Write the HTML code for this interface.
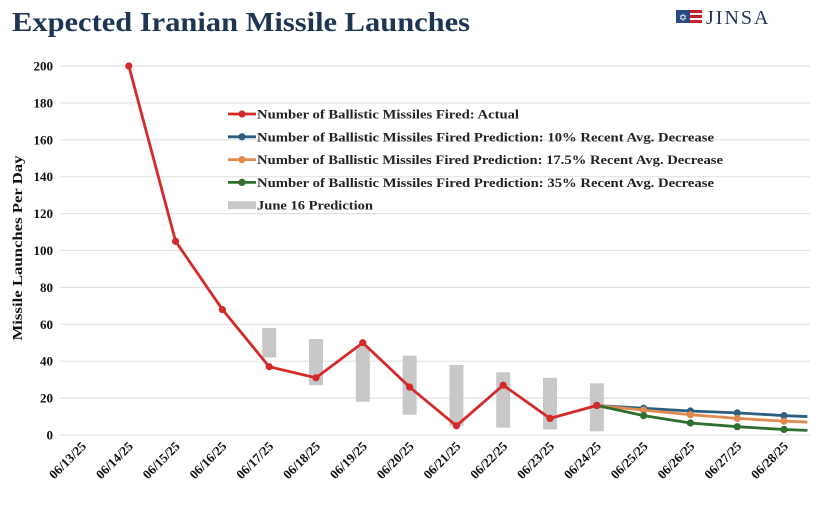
<!DOCTYPE html>
<html><head><meta charset="utf-8"><style>
body{margin:0;background:#fff;width:828px;height:509px;overflow:hidden}
svg{display:block}
</style></head><body>
<svg id="chart" width="828" height="509" xmlns="http://www.w3.org/2000/svg">
<text x="12" y="31" font-family="Liberation Serif, serif" font-weight="bold" font-size="27" fill="#1f3554" textLength="458" lengthAdjust="spacingAndGlyphs">Expected Iranian Missile Launches</text>
<g>
<rect x="676" y="10" width="14" height="13" fill="#2a4a80"/>
<rect x="690" y="10" width="12" height="3" fill="#c8202a"/><rect x="690" y="15" width="12" height="3" fill="#c8202a"/><rect x="690" y="20" width="12" height="3" fill="#c8202a"/>
<text x="683" y="21" font-size="10" fill="#fff" text-anchor="middle">✡</text>
<text x="706" y="24" font-family="Liberation Serif, serif" font-size="20" fill="#1f3554" letter-spacing="2">JINSA</text>
</g>
<text transform="translate(22,248) rotate(-90)" text-anchor="middle" font-family="Liberation Serif, serif" font-weight="bold" font-size="13.5" fill="#111" textLength="185" lengthAdjust="spacingAndGlyphs">Missile Launches Per Day</text>
<g id="grid"></g><g id="bars"></g><g id="lines"></g><g id="xlabels"></g>
<g id="legend" font-family="Liberation Serif, serif" font-weight="bold" font-size="13" fill="#222"></g>
</svg>
<script>
const dates=["06/13/25","06/14/25","06/15/25","06/16/25","06/17/25","06/18/25","06/19/25","06/20/25","06/21/25","06/22/25","06/23/25","06/24/25","06/25/25","06/26/25","06/27/25","06/28/25"];
const yTicks=[0,20,40,60,80,100,120,140,160,180,200];
const actual=[null,200,105,68,37,31,50,26,5,27,9,16];
const barLow=[null,null,null,null,42,27,18,11,5,4,3,2];
const barHigh=[null,null,null,null,58,52,48,43,38,34,31,28];
const pred10=[16,14.5,13,12,10.5,10];
const pred175=[16,13.5,11,9,7.5,7];
const pred35=[16,10.5,6.5,4.5,3,2.5];
const predStart=11;
const legendLabels=["Number of Ballistic Missiles Fired: Actual","Number of Ballistic Missiles Fired Prediction: 10% Recent Avg. Decrease","Number of Ballistic Missiles Fired Prediction: 17.5% Recent Avg. Decrease","Number of Ballistic Missiles Fired Prediction: 35% Recent Avg. Decrease","June 16 Prediction"];
const legendWidths=[262,457,466,457,116];
const NS="http://www.w3.org/2000/svg";
const X=i=>82+i*46.8, Y=v=>435-v*1.845;
function mk(t,a,p){const e=document.createElementNS(NS,t);for(const k in a)e.setAttribute(k,a[k]);p.appendChild(e);return e;}
const g=document.getElementById('grid');
yTicks.forEach(v=>{
 const l=mk('line',{x1:60,x2:810,y1:Y(v),y2:Y(v),stroke:'#e2e2e2','stroke-width':1.2},g);
 
 
 const t=mk('text',{x:53,y:Y(v)+4.5,'text-anchor':'end','font-family':'Liberation Serif, serif','font-weight':'bold','font-size':13,fill:'#111'},g);
 t.textContent=v;
 
 
});
const xl=document.getElementById('xlabels');
dates.forEach((d,i)=>{
 const t=mk('text',{transform:`translate(${X(i)+5},447) rotate(-45)`,'text-anchor':'end','font-family':'Liberation Serif, serif','font-weight':'bold','font-size':13,fill:'#111'},xl);
 t.textContent=d;
 
 
});
const b=document.getElementById('bars');
barLow.forEach((lo,i)=>{if(lo==null)return;
 const r=mk('rect',{x:X(i)-7,y:Y(barHigh[i]),width:14,height:Y(lo)-Y(barHigh[i]),fill:'#c8c8c8'},b);
 
 
});
const L=document.getElementById('lines');
function series(vals,off,color,name,extend){
 const pts=[];vals.forEach((v,i)=>{if(v!=null)pts.push([X(i+off),Y(v)]);});
 if(extend){const last=pts.pop();pts.push([X(off+vals.length-1.5),last[1]]);}
 const p=mk('polyline',{points:pts.map(p=>p.join(',')).join(' '),fill:'none',stroke:color,'stroke-width':2.8,'stroke-linejoin':'round'},L);
 
 
 const n=extend?pts.length-1:pts.length;
 for(let k=0;k<n;k++){const c=mk('circle',{cx:pts[k][0],cy:pts[k][1],r:3.6,fill:color},L);
  
  }
}
series(pred10,predStart,'#2c5f7f','pred-10pct',true);
series(pred175,predStart,'#e08a50','pred-17-5pct',true);
series(pred35,predStart,'#2e6e2e','pred-35pct',true);
series(actual,0,'#d42a2a','actual',false);
const lg=document.getElementById('legend');
const colors=['#d42a2a','#2c5f7f','#e08a50','#2e6e2e',null];
legendLabels.forEach((s,i)=>{
 const y=114+i*22.8;
 const e=mk('g',{},lg);
 
 
 if(colors[i]){mk('line',{x1:228,x2:256,y1:y,y2:y,stroke:colors[i],'stroke-width':2.8},e);mk('circle',{cx:242,cy:y,r:3.6,fill:colors[i]},e);}
 else mk('rect',{x:228,y:y-4,width:28,height:8,fill:'#c8c8c8'},e);
 const t=mk('text',{x:257,y:y+4.5,textLength:legendWidths[i],lengthAdjust:'spacingAndGlyphs'},e);t.textContent=s;
});
</script>
</body></html>
